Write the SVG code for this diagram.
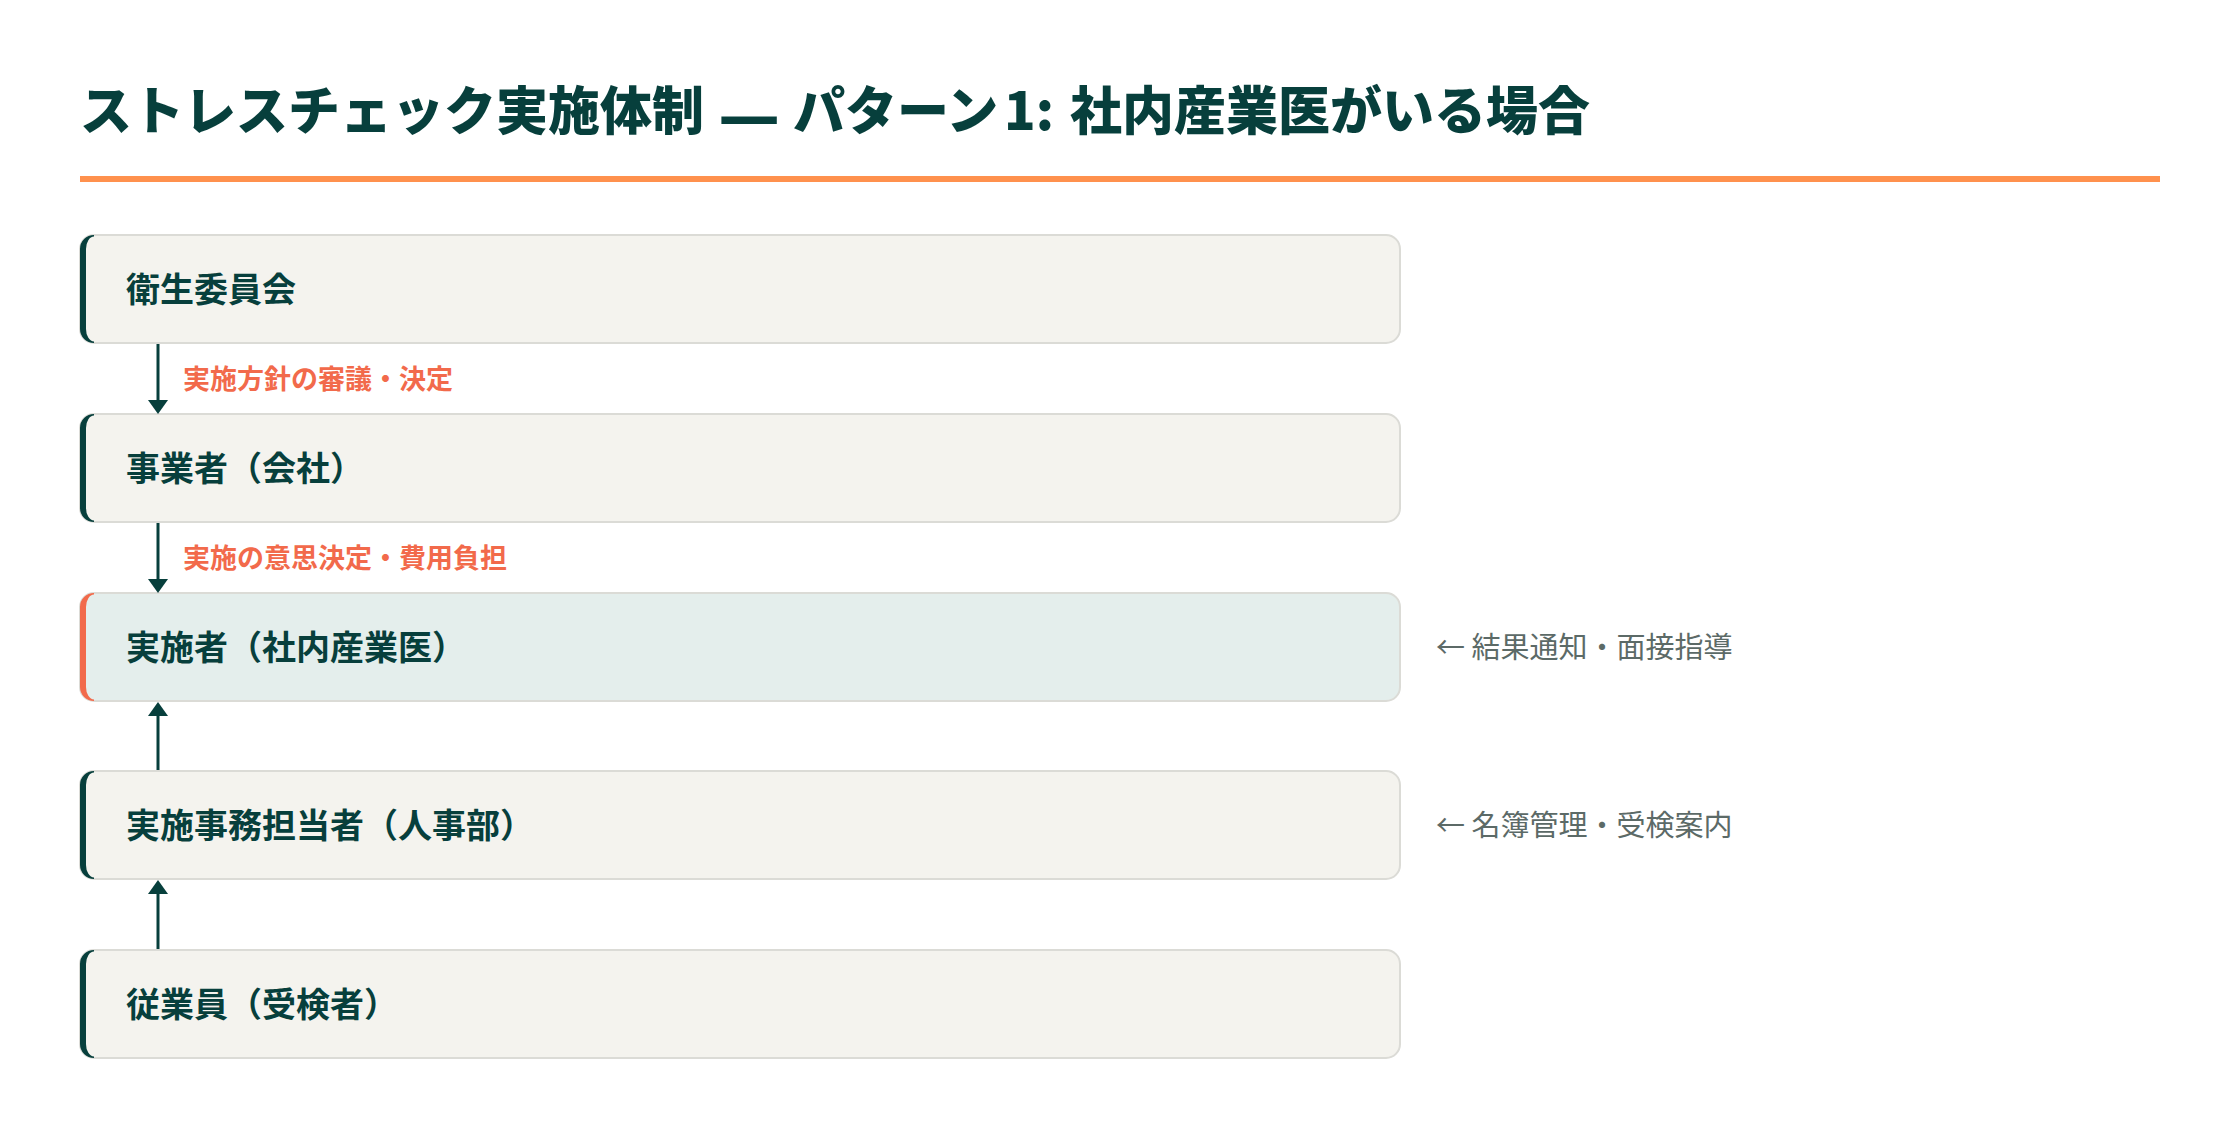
<svg xmlns="http://www.w3.org/2000/svg" width="2240" height="1124" viewBox="0 0 2240 1124">
  <style>
    .title { font-family: "Noto Sans CJK JP", "Noto Sans", sans-serif; font-size: 52px; font-weight: 900; fill: #073f3c; }
    .dash { font-size: 68px; }
    .box { fill: #f4f3ee; stroke: #dbdbd6; stroke-width: 2; }
    .box.hl { fill: #e4eeec; }
    .accent { fill: #073f3c; }
    .accent.hl { fill: #f26a4b; }
    .ntext { font-family: "Noto Sans CJK JP", "Noto Sans", sans-serif; font-size: 34px; font-weight: 700; fill: #073f3c; }
    .elabel { font-family: "Noto Sans CJK JP", "Noto Sans", sans-serif; font-size: 27px; font-weight: 700; fill: #f26a4b; }
    .side { font-family: "Noto Sans CJK JP", "Noto Sans", sans-serif; font-size: 29px; font-weight: 400; fill: #5c6a67; }
    .conn { stroke: #073f3c; stroke-width: 3; fill: none; }
  </style>
  <defs>
    <marker id="arrow" markerUnits="userSpaceOnUse" markerWidth="14" markerHeight="20" refX="0" refY="10" orient="auto" viewBox="0 0 14 20">
      <path d="M0,0 L14,10 L0,20 Z" fill="#073f3c"/>
    </marker>
  </defs>
  <rect width="2240" height="1124" fill="#ffffff"/>

  <g id="header">
    <text class="title" y="130"><tspan x="80">ストレスチェック実施体制 </tspan><tspan class="dash" x="718" dy="10">—</tspan><tspan x="781" dy="-10"> パターン</tspan><tspan x="1004">1: </tspan><tspan x="1070">社内産業医がいる場合</tspan></text>
    <rect x="80" y="176" width="2080" height="6" fill="#ff914d"/>
  </g>

  <g id="node-eisei">
    <rect class="box" x="80" y="235" width="1320" height="108" rx="14" ry="14"/>
    <path class="accent" d="M94,235 A14,14 0 0 0 80,249 L80,329 A14,14 0 0 0 94,343 L94,341.5 A8,12.5 0 0 1 86,329 L86,249 A8,12.5 0 0 1 94,236.5 Z"/>
    <text class="ntext" x="126" y="302">衛生委員会</text>
  </g>

  <g id="node-jigyosha">
    <rect class="box" x="80" y="414" width="1320" height="108" rx="14" ry="14"/>
    <path class="accent" d="M94,414 A14,14 0 0 0 80,428 L80,508 A14,14 0 0 0 94,522 L94,520.5 A8,12.5 0 0 1 86,508 L86,428 A8,12.5 0 0 1 94,415.5 Z"/>
    <text class="ntext" x="126" y="481">事業者（会社）</text>
  </g>

  <g id="node-jisshisha">
    <rect class="box hl" x="80" y="593" width="1320" height="108" rx="14" ry="14"/>
    <path class="accent hl" d="M94,593 A14,14 0 0 0 80,607 L80,687 A14,14 0 0 0 94,701 L94,699.5 A8,12.5 0 0 1 86,687 L86,607 A8,12.5 0 0 1 94,594.5 Z"/>
    <text class="ntext" x="126" y="660">実施者（社内産業医）</text>
    <text class="side" x="1436" y="658">← 結果通知・面接指導</text>
  </g>

  <g id="node-jimu">
    <rect class="box" x="80" y="771" width="1320" height="108" rx="14" ry="14"/>
    <path class="accent" d="M94,771 A14,14 0 0 0 80,785 L80,865 A14,14 0 0 0 94,879 L94,877.5 A8,12.5 0 0 1 86,865 L86,785 A8,12.5 0 0 1 94,772.5 Z"/>
    <text class="ntext" x="126" y="838">実施事務担当者（人事部）</text>
    <text class="side" x="1436" y="836">← 名簿管理・受検案内</text>
  </g>

  <g id="node-jugyoin">
    <rect class="box" x="80" y="950" width="1320" height="108" rx="14" ry="14"/>
    <path class="accent" d="M94,950 A14,14 0 0 0 80,964 L80,1044 A14,14 0 0 0 94,1058 L94,1056.5 A8,12.5 0 0 1 86,1044 L86,964 A8,12.5 0 0 1 94,951.5 Z"/>
    <text class="ntext" x="126" y="1017">従業員（受検者）</text>
  </g>

  <g id="connectors">
    <line class="conn" x1="158" y1="344" x2="158" y2="400" marker-end="url(#arrow)"/>
    <text class="elabel" x="183" y="389">実施方針の審議・決定</text>
    <line class="conn" x1="158" y1="523" x2="158" y2="579" marker-end="url(#arrow)"/>
    <text class="elabel" x="183" y="568">実施の意思決定・費用負担</text>
    <line class="conn" x1="158" y1="770" x2="158" y2="716" marker-end="url(#arrow)"/>
    <line class="conn" x1="158" y1="949" x2="158" y2="894" marker-end="url(#arrow)"/>
  </g>
</svg>
